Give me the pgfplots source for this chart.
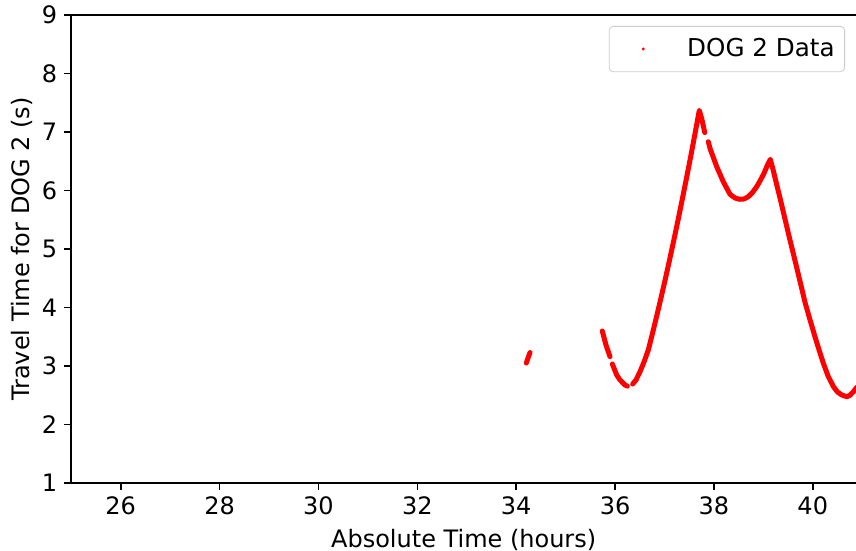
\documentclass[border=0pt]{standalone}
\usepackage{fontspec}
\setmainfont{DejaVu Sans}
\usepackage{pgfplots}
\pgfplotsset{compat=1.18}
\begin{document}
\begin{tikzpicture}
\begin{axis}[
  scale only axis,
  width=392.35pt, height=234pt,
  xmin=25, xmax=40.875, ymin=1, ymax=9,
  xtick={26,28,...,40}, ytick={1,2,...,9},
  tick pos=left, tick align=outside,
  major tick length=3.5pt,
  axis y line*=left,
  axis line style={line width=0.8pt},
  every tick/.style={black, line width=0.8pt},
  tick label style={font=\fontsize{12}{14}\selectfont},
  label style={font=\fontsize{12}{14}\selectfont},
  /pgf/number format/assume math mode=true,
  xlabel={Absolute Time (hours)},
  ylabel={Travel Time for DOG 2 (s)},
  ylabel shift=-2pt,
  unbounded coords=jump,
  legend style={at={(1,1)}, anchor=north east, xshift=-5.5pt, yshift=-5.5pt,
    draw=black!20, rounded corners=2pt, inner xsep=3pt, inner ysep=4pt,
    font=\fontsize{12.3}{14}\selectfont},
  legend image code/.code={\path[draw=none, fill=none] (0pt,0pt) -- (34pt,0pt);
    \fill[red, draw=none] (14pt,0pt) circle (0.8pt);},
]
\addplot[red, line width=2.5pt, line join=round, line cap=round] coordinates {
  (34.205,3.05) (34.245,3.15) (34.28,3.23)
  (34.3,nan)
  (35.742,3.598) (35.817,3.359) (35.898,3.159)
  (35.92,nan)
  (35.945,3.034) (36.034,2.846) (36.101,2.761) (36.202,2.675) (36.25,2.655)
  (36.30,nan)
  (36.357,2.692) (36.424,2.761) (36.505,2.903) (36.586,3.068) (36.673,3.274)
  (36.758,3.559) (36.843,3.854) (36.930,4.165) (37.011,4.463) (37.092,4.771)
  (37.179,5.110) (37.263,5.447) (37.353,5.818) (37.443,6.199) (37.533,6.591)
  (37.618,6.971) (37.705,7.370) (37.760,7.205) (37.815,6.99)
  (37.85,nan)
  (37.887,6.834) (37.921,6.721) (38.057,6.407) (38.190,6.150) (38.326,5.935)
  (38.427,5.872) (38.514,5.850) (38.609,5.855) (38.696,5.894) (38.781,5.966)
  (38.866,6.065) (38.943,6.179) (39.014,6.294) (39.075,6.419) (39.141,6.533)
  (39.196,6.360) (39.271,6.100) (39.358,5.800) (39.439,5.510) (39.520,5.220)
  (39.607,4.920) (39.690,4.630) (39.770,4.350) (39.843,4.090) (39.944,3.790)
  (40.045,3.500) (40.126,3.280) (40.213,3.050) (40.309,2.830) (40.416,2.650)
  (40.501,2.555) (40.586,2.505) (40.687,2.475) (40.754,2.500) (40.820,2.560)
  (40.895,2.640)
};
\addlegendentry{DOG 2 Data}
\coordinate (sw) at (rel axis cs:0,0);
\coordinate (ne) at (rel axis cs:1,1);
\end{axis}
\pgfresetboundingbox
\useasboundingbox ([shift={(-35.65pt,-34pt)}]sw) rectangle ([shift={(0pt,7.5pt)}]ne);
\end{tikzpicture}
\end{document}
